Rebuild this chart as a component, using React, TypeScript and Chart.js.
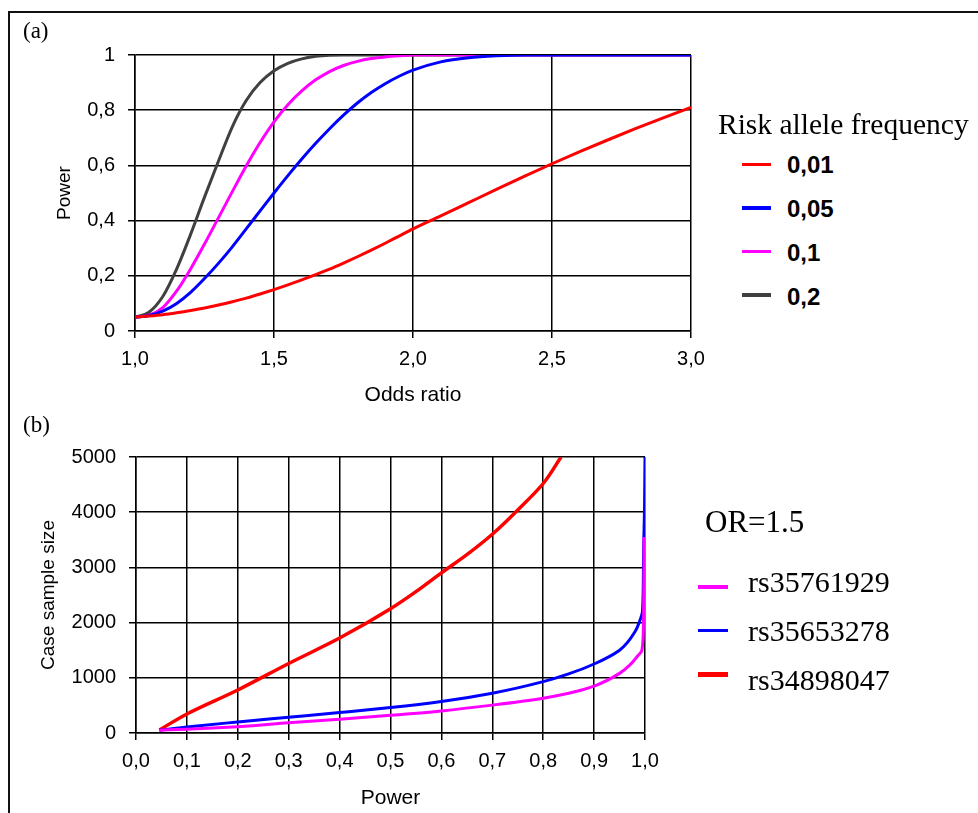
import React, { useEffect, useRef } from 'react';
import { Chart, registerables } from 'chart.js';

Chart.register(...registerables);

// ---------------- Panel (a): power vs odds ratio ----------------
const oddsRatio = [1.0, 1.05, 1.1, 1.15, 1.2, 1.25, 1.3, 1.35, 1.4, 1.45, 1.5, 1.55, 1.6, 1.65, 1.7, 1.75, 1.8, 1.85, 1.9, 1.95, 2.0, 2.1, 2.2, 2.3, 2.4, 2.5, 2.6, 2.7, 2.8, 2.9, 3.0];
const powerRaf001 = [0.05, 0.054, 0.059, 0.066, 0.074, 0.083, 0.094, 0.106, 0.119, 0.134, 0.15, 0.167, 0.185, 0.204, 0.224, 0.246, 0.269, 0.293, 0.318, 0.344, 0.37, 0.417, 0.465, 0.513, 0.56, 0.606, 0.65, 0.692, 0.733, 0.772, 0.81];
const powerRaf005 = [0.05, 0.056, 0.072, 0.1, 0.14, 0.19, 0.245, 0.305, 0.37, 0.435, 0.5, 0.563, 0.623, 0.68, 0.733, 0.782, 0.826, 0.864, 0.896, 0.923, 0.945, 0.975, 0.99, 0.997, 1, 1, 1, 1, 1, 1, 1];
const powerRaf01 = [0.05, 0.057, 0.085, 0.145, 0.225, 0.315, 0.41, 0.505, 0.598, 0.683, 0.758, 0.82, 0.87, 0.91, 0.94, 0.962, 0.977, 0.987, 0.993, 0.997, 1, 1, 1, 1, 1, 1, 1, 1, 1, 1, 1];
const powerRaf02 = [0.05, 0.068, 0.125, 0.225, 0.35, 0.485, 0.615, 0.74, 0.835, 0.9, 0.943, 0.97, 0.986, 0.995, 0.999, 1, 1, 1, 1, 1, 1, 1, 1, 1, 1, 1, 1, 1, 1, 1, 1];

const rafLabels = ['0,01', '0,05', '0,1', '0,2'];
const rafColors = ['#ff0000', '#0000ff', '#ff00ff', '#404040'];
const rafSwatchWidths = [2.5, 3.5, 3.5, 3.5];
const rafSeries = [powerRaf001, powerRaf005, powerRaf01, powerRaf02];

const oddsTickLabels = ['1,0', '1,5', '2,0', '2,5', '3,0'];
const powerTickLabelsA = ['0', '0,2', '0,4', '0,6', '0,8', '1'];

// ---------------- Panel (b): sample size vs power ----------------
const powerRs35761929 = [0.046, 0.1, 0.2, 0.3, 0.4, 0.5, 0.6, 0.7, 0.8, 0.85, 0.9, 0.95, 0.97, 0.985, 0.994, 0.997, 0.998, 0.998];
const sizeRs35761929 = [50, 70, 115, 185, 250, 320, 400, 505, 630, 720, 850, 1080, 1230, 1390, 1500, 2000, 3000, 3550];
const powerRs35653278 = [0.046, 0.1, 0.2, 0.3, 0.4, 0.5, 0.6, 0.7, 0.8, 0.85, 0.9, 0.95, 0.98, 0.99, 0.995, 0.997, 0.999, 1.0];
const sizeRs35653278 = [50, 110, 200, 285, 370, 460, 570, 720, 930, 1070, 1250, 1500, 1830, 2040, 2200, 3100, 4050, 5000];
const powerRs34898047 = [0.046, 0.1, 0.2, 0.3, 0.4, 0.5, 0.55, 0.6, 0.65, 0.7, 0.75, 0.8, 0.835];
const sizeRs34898047 = [55, 345, 780, 1260, 1720, 2250, 2560, 2900, 3230, 3600, 4040, 4520, 5000];

const snpLabels = ['rs35761929', 'rs35653278', 'rs34898047'];
const snpColors = ['#ff00ff', '#0000ff', '#ff0000'];
const snpSwatchWidths = [4, 3, 5];
const snpLineWidths = [3, 3, 3.5];
const snpPowers = [powerRs35761929, powerRs35653278, powerRs34898047];
const snpSizes = [sizeRs35761929, sizeRs35653278, sizeRs34898047];

const powerTickLabelsB = ['0,0', '0,1', '0,2', '0,3', '0,4', '0,5', '0,6', '0,7', '0,8', '0,9', '1,0'];
const sizeTickLabels = ['0', '1000', '2000', '3000', '4000', '5000'];

const SANS = "'Liberation Sans', Arial, Helvetica, sans-serif";
const SERIF = "'Liberation Serif', 'Times New Roman', serif";

function axis(opts: any) {
  return {
    type: 'linear',
    min: opts.min,
    max: opts.max,
    ticks: {
      stepSize: opts.step,
      padding: opts.pad,
      color: '#000',
      autoSkip: false,
      maxRotation: 0,
      font: { family: SANS, size: 20 },
      callback: (_v: any, i: number) => opts.labels[i],
    },
    grid: { color: '#000', lineWidth: 1.5, tickLength: 7 },
    border: { color: '#000', width: 1.5 },
    title: {
      display: true,
      text: opts.title,
      color: '#000',
      font: { family: SANS, size: opts.titleSize },
      padding: opts.titlePad,
    },
    afterFit: (s: any) => {
      if (opts.horizontal) s.height = opts.size;
      else s.width = opts.size;
      s.paddingLeft = 0;
      s.paddingRight = 0;
      s.paddingTop = 0;
      s.paddingBottom = 0;
    },
  };
}

function Txt(props: { x: number; baseline: number; size: number; serif?: boolean; bold?: boolean; children: any }) {
  const k = props.serif ? 0.8375 : 0.8465;
  return (
    <div
      style={{
        position: 'absolute',
        left: props.x,
        top: props.baseline - k * props.size,
        fontFamily: props.serif ? SERIF : SANS,
        fontSize: props.size,
        fontWeight: props.bold ? 'bold' : 'normal',
        lineHeight: 1,
        whiteSpace: 'nowrap',
        color: '#000',
      }}
    >
      {props.children}
    </div>
  );
}

function Swatch(props: { x: number; cy: number; w: number; h: number; color: string }) {
  return (
    <div
      style={{
        position: 'absolute',
        left: props.x,
        top: props.cy - props.h / 2,
        width: props.w,
        height: props.h,
        background: props.color,
      }}
    />
  );
}

export default function App() {
  const refA = useRef<HTMLCanvasElement>(null);
  const refB = useRef<HTMLCanvasElement>(null);

  useEffect(() => {
    const chartA = new Chart(refA.current as HTMLCanvasElement, {
      type: 'line',
      data: {
        datasets: rafSeries.map((ys, k) => ({
          label: rafLabels[k],
          data: oddsRatio.map((x, i) => ({ x, y: ys[i] })),
          borderColor: rafColors[k],
          backgroundColor: rafColors[k],
          borderWidth: 3,
          pointRadius: 0,
          fill: false,
          cubicInterpolationMode: 'monotone',
        })),
      },
      options: {
        animation: false,
        responsive: false,
        maintainAspectRatio: false,
        devicePixelRatio: 1,
        events: [],
        layout: { padding: { left: 0, top: 55, right: 29, bottom: 9 } },
        plugins: { legend: { display: false }, tooltip: { enabled: false } },
        scales: {
          x: axis({ min: 1, max: 3, step: 0.5, pad: 9, labels: oddsTickLabels, title: 'Odds ratio', titleSize: 21, titlePad: { top: 0, bottom: 3 }, horizontal: true, size: 80 }),
          y: axis({ min: 0, max: 1, step: 0.2, pad: 13, labels: powerTickLabelsA, title: 'Power', titleSize: 19, titlePad: { top: 53.6, bottom: 0 }, horizontal: false, size: 135 }),
        },
      } as any,
    });

    const chartB = new Chart(refB.current as HTMLCanvasElement, {
      type: 'line',
      data: {
        datasets: snpLabels.map((lab, k) => ({
          label: lab,
          data: snpPowers[k].map((x, i) => ({ x, y: snpSizes[k][i] })),
          borderColor: snpColors[k],
          backgroundColor: snpColors[k],
          borderWidth: snpLineWidths[k],
          pointRadius: 0,
          fill: false,
          cubicInterpolationMode: 'monotone',
        })),
      },
      options: {
        indexAxis: 'y',
        animation: false,
        responsive: false,
        maintainAspectRatio: false,
        devicePixelRatio: 1,
        events: [],
        layout: { padding: { left: 0, top: 37, right: 75, bottom: 0 } },
        plugins: { legend: { display: false }, tooltip: { enabled: false } },
        scales: {
          x: axis({ min: 0, max: 1, step: 0.1, pad: 9, labels: powerTickLabelsB, title: 'Power', titleSize: 21, titlePad: { top: 0, bottom: 2.2 }, horizontal: true, size: 80 }),
          y: axis({ min: 0, max: 5000, step: 1000, pad: 13, labels: sizeTickLabels, title: 'Case sample size', titleSize: 19, titlePad: { top: 37, bottom: 0 }, horizontal: false, size: 136 }),
        },
      } as any,
    });

    return () => {
      chartA.destroy();
      chartB.destroy();
    };
  }, []);

  return (
    <div style={{ position: 'absolute', left: 0, top: 0, width: 978, height: 813, overflow: 'hidden', background: '#fff' }}>
      <div
        style={{
          position: 'absolute',
          left: 8,
          top: 11,
          width: 1000,
          height: 840,
          borderLeft: '2px solid #111',
          borderTop: '2px solid #111',
        }}
      />
      <canvas ref={refA} width={720} height={420} style={{ position: 'absolute', left: 0, top: 0, width: 720, height: 420 }} />
      <canvas ref={refB} width={720} height={393} style={{ position: 'absolute', left: 0, top: 420, width: 720, height: 393 }} />

      <Txt x={23} baseline={38.5} size={23} serif>(a)</Txt>
      <Txt x={23} baseline={432.5} size={23} serif>(b)</Txt>

      <Txt x={718} baseline={135} size={29.5} serif>Risk allele frequency</Txt>
      {rafLabels.map((lab, i) => (
        <React.Fragment key={lab}>
          <Swatch x={742} cy={164.7 + 43.5 * i} w={29} h={rafSwatchWidths[i]} color={rafColors[i]} />
          <Txt x={787} baseline={173 + 44 * i} size={24} bold>{lab}</Txt>
        </React.Fragment>
      ))}

      <Txt x={705} baseline={532} size={31} serif>OR=1.5</Txt>
      {snpLabels.map((lab, i) => (
        <React.Fragment key={lab}>
          <Swatch x={698} cy={586.7 + 43.7 * i} w={30} h={snpSwatchWidths[i]} color={snpColors[i]} />
          <Txt x={748} baseline={592.5 + 49 * i} size={30} serif>{lab}</Txt>
        </React.Fragment>
      ))}
    </div>
  );
}
